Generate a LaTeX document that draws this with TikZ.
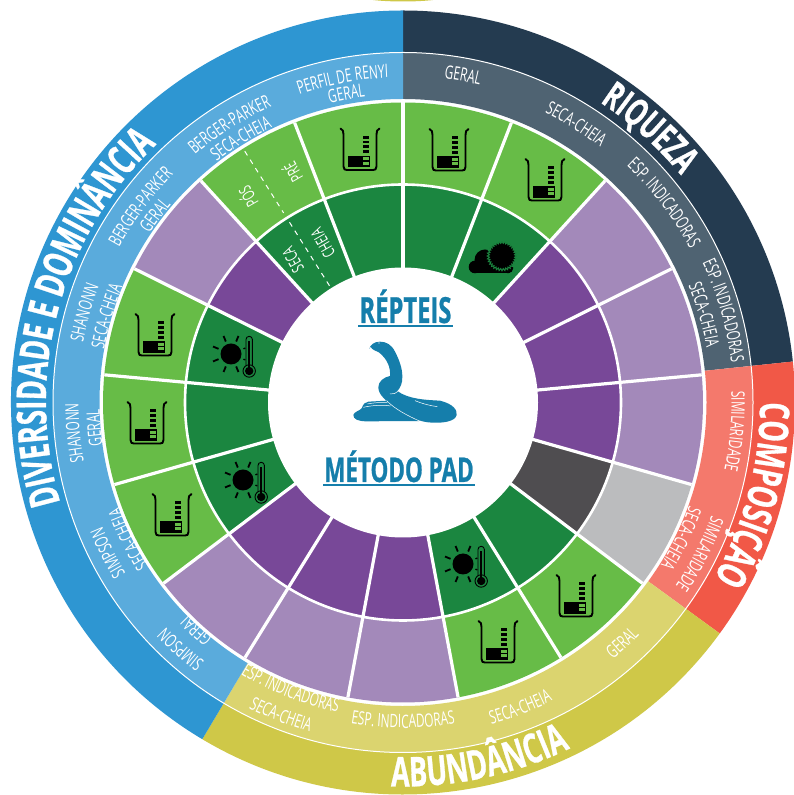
\documentclass[tikz,border=0pt]{standalone}
\usepackage{fontspec}
\usetikzlibrary{decorations.text}
\newfontfamily\cond[FakeStretch=0.64]{Open Sans}
\newfontfamily\heavy[FakeStretch=0.66,FakeBold=0.7]{Open Sans}
\definecolor{cblue}{HTML}{2E96D2}
\definecolor{cbluel}{HTML}{5AABDC}
\definecolor{cnavy}{HTML}{243B50}
\definecolor{cnavyl}{HTML}{4F6372}
\definecolor{cred}{HTML}{F15847}
\definecolor{credl}{HTML}{F4796C}
\definecolor{cyel}{HTML}{CFC848}
\definecolor{cyell}{HTML}{DBD46F}
\definecolor{cgreen}{HTML}{67BC47}
\definecolor{cdgreen}{HTML}{1B8640}
\definecolor{cpurple}{HTML}{784898}
\definecolor{cpurplel}{HTML}{A389BA}
\definecolor{cdgrey}{HTML}{4F4D50}
\definecolor{cgrey}{HTML}{BBBCBE}
\definecolor{csnake}{HTML}{157EAB}
\newcommand{\St}{21.17647}
\newcommand{\mywedge}[5]{% a1 a2 r1 r2 colour (clockwise from the top)
  \pgfmathsetmacro{\wa}{90-#1}\pgfmathsetmacro{\wb}{90-#2}
  \fill[#5] (\wa:#4) arc[start angle=\wa,end angle=\wb,radius=#4] -- (\wb:#3) arc[start angle=\wb,end angle=\wa,radius=#3] -- cycle;}
\newcommand{\mycell}[3]{% index, outer colour, inner colour
  \pgfmathsetmacro{\ca}{#1*\St}\pgfmathsetmacro{\cb}{(#1+1)*\St}
  \mywedge{\ca}{\cb}{218}{300}{#2}
  \mywedge{\ca}{\cb}{134}{218}{#3}}
\newcommand{\cwtext}[4]{% angle, baseline radius, font, text : clockwise
  \pgfmathsetmacro{\ts}{90-#1+38}
  \path[decorate,decoration={text along path,text align=center,text={|#3|#4}}]
    (\ts:#2) arc[start angle=\ts,delta angle=-76,radius=#2];}
\newcommand{\ccwtext}[4]{% angle, baseline radius, font, text : counter-clockwise
  \pgfmathsetmacro{\ts}{90-#1-38}
  \path[decorate,decoration={text along path,text align=center,text={|#3|#4}}]
    (\ts:#2) arc[start angle=\ts,delta angle=76,radius=#2];}
\newcommand{\lab}{\cond\fontsize{18.5}{18.5}\selectfont\color{white}}
\newcommand{\labb}{\cond\fontsize{18.5}{18.5}\selectfont\color{white}}
\newcommand{\biglab}{\heavy\bfseries\fontsize{41}{41}\selectfont\color{white}}
\newcommand{\midlab}{\heavy\bfseries\fontsize{38}{38}\selectfont\color{white}}
\newcommand{\beaker}[2]{%
  \begin{scope}[shift={(#1,795-#2)}]
    \draw[black,line width=1.9pt,line cap=round,line join=round]
      (-19.5,21) .. controls (-17,20) and (-16.5,18) .. (-16.5,15) -- (-16.5,-17)
      .. controls (-16.5,-20) and (-15,-20.5) .. (-13,-20.5) -- (13,-20.5)
      .. controls (15,-20.5) and (16.5,-20) .. (16.5,-17) -- (16.5,15)
      .. controls (16.5,18) and (17,20) .. (19.5,21);
    \fill[black] (-12.5,-18) rectangle (10,-6.5);
    \foreach \yy in {13.5,8.8,4,-0.8}{\fill[black] (3.2,\yy) rectangle (8.8,\yy-2.8);}
    \foreach \yy in {-7.8,-12.5}{\fill[cgreen] (3.2,\yy) rectangle (8.8,\yy-2.8);}
  \end{scope}}
\newcommand{\sunthermo}[2]{%
  \begin{scope}[shift={(#1,795-#2)}]
    \fill[black] (0,0) circle (10.5);
    \foreach \ang in {67.5,112.5,157.5,202.5,247.5,292.5}{%
      \draw[black,line width=1.8pt] (\ang:13.5) -- (\ang:19.5);}
    \draw[black,line width=1.3pt] (-22.5:13.5) -- (-22.5:15.5);
    \draw[black,line width=1.3pt] (22.5:13.5) -- (22.5:15.5);
    \draw[black,line width=0.9pt] (15,-13) -- (15,14.5) arc[start angle=180,end angle=0,radius=3.2] -- (21.4,-13);
    \fill[cdgreen] (18.2,-17) circle (6.2);
    \draw[black,line width=0.9pt] (18.2,-17) circle (6.2);
    \fill[black] (18.2,-17) circle (4.2);
    \fill[black] (17.2,-14) rectangle (19.2,13);
  \end{scope}}
\begin{document}
\begin{tikzpicture}[x=1pt,y=1pt]
\useasboundingbox (0,0) rectangle (794,795);
\fill[white] (0,0) rectangle (794,795);
\fill[cyel] (373,795) .. controls (390,793) and (416,793) .. (433,795) -- cycle;
\begin{scope}[shift={(403,392.5)}]
% outer bands
\mywedge{0}{84}{350}{392}{cnavy}
\mywedge{84}{126.1}{350}{392}{cred}
\mywedge{126.1}{210.8}{350}{392}{cyel}
\mywedge{210.8}{360}{350}{392}{cblue}
\mywedge{0}{84}{303.5}{350}{cnavyl}
\mywedge{84}{126.1}{303.5}{350}{credl}
\mywedge{126.1}{210.8}{303.5}{350}{cyell}
\mywedge{210.8}{360}{303.5}{350}{cbluel}
\draw[white,line width=1pt] (0,0) circle (350);
% cells
\mycell{0}{cgreen}{cdgreen}
\mycell{1}{cgreen}{cdgreen}
\mycell{2}{cpurplel}{cpurple}
\mycell{3}{cpurplel}{cpurple}
\mycell{4}{cpurplel}{cpurple}
\mycell{5}{cgrey}{cdgrey}
\mycell{6}{cgreen}{cdgreen}
\mycell{7}{cgreen}{cdgreen}
\mycell{8}{cpurplel}{cpurple}
\mycell{9}{cpurplel}{cpurple}
\mycell{10}{cpurplel}{cpurple}
\mycell{11}{cgreen}{cdgreen}
\mycell{12}{cgreen}{cdgreen}
\mycell{13}{cgreen}{cdgreen}
\mycell{14}{cpurplel}{cpurple}
\mycell{15}{cgreen}{cdgreen}
\mycell{16}{cgreen}{cdgreen}
\foreach \i in {0,...,16}{%
  \pgfmathsetmacro{\ang}{90-\i*\St}
  \draw[white,line width=3.2pt] (\ang:134) -- (\ang:300);}
\draw[white,line width=2.6pt] (0,0) circle (218);
\fill[white] (0,0) circle (135);
% split cell
\draw[white,line width=1pt,dash pattern=on 5pt off 5pt] (122.2:297) -- (122.2:224);
\draw[white,line width=1pt,dash pattern=on 5pt off 5pt] (122.2:213) -- (122.2:136);
% band labels
\cwtext{285}{357}{\biglab}{DIVERSIDADE E DOMINÂNCIA}
\cwtext{42}{359}{\midlab}{RIQUEZA}
\cwtext{104.7}{357}{\biglab}{COMPOSIÇÃO}
\ccwtext{168}{384}{\biglab}{ABUNDÂNCIA}
\cwtext{10.4}{326.5}{\lab}{GERAL}
\cwtext{31.9}{322.5}{\lab}{SECA-CHEIA}
\cwtext{52.6}{325.5}{\lab}{ESP. INDICADORAS}
\cwtext{74}{330.5}{\labb}{ESP. INDICADORAS}
\cwtext{73.7}{308.5}{\labb}{SECA-CHEIA}
\cwtext{95}{328.5}{\lab}{SIMILARIDADE}
\cwtext{117}{328.5}{\labb}{SIMILARIDADE}
\cwtext{116}{304.5}{\labb}{SECA-CHEIA}
\ccwtext{137.6}{331.5}{\lab}{GERAL}
\ccwtext{159}{333.5}{\lab}{SECA-CHEIA}
\ccwtext{180}{325.5}{\lab}{ESP. INDICADORAS}
\ccwtext{201.4}{316.5}{\labb}{ESP. INDICADORAS}
\ccwtext{201.3}{342.5}{\labb}{SECA-CHEIA}
\cwtext{222}{326.5}{\labb}{SIMPSON}
\cwtext{222.4}{301.5}{\labb}{GERAL}
\cwtext{243}{325.5}{\labb}{SIMPSON}
\cwtext{243.5}{301.5}{\labb}{SECA-CHEIA}
\cwtext{264.7}{324.5}{\labb}{SHANONN}
\cwtext{265.3}{303.5}{\labb}{GERAL}
\cwtext{285.8}{325.5}{\labb}{SHANONN}
\cwtext{286.2}{303.5}{\labb}{SECA-CHEIA}
\cwtext{306.7}{323.5}{\labb}{BERGER-PARKER}
\cwtext{307}{304.5}{\labb}{GERAL}
\cwtext{328}{323.5}{\labb}{BERGER-PARKER}
\cwtext{328.4}{304.5}{\labb}{SECA-CHEIA}
\cwtext{349.4}{325}{\labb}{PERFIL DE RENYI}
\cwtext{349.6}{308}{\labb}{GERAL}
\end{scope}
% split cell labels
\node[rotate=120,text=white,font=\cond\fontsize{17}{17}\selectfont,inner sep=0] (pre) at (292,795-173) {PRÉ};
\node[rotate=120,text=white,font=\cond\fontsize{17}{17}\selectfont,inner sep=0] (pos) at (247,795-197) {PÓS};
\node[rotate=120,text=white,font=\cond\fontsize{17}{17}\selectfont,inner sep=0] (seca) at (293,795-260) {SECA};
\node[rotate=120,text=white,font=\cond\fontsize{17}{17}\selectfont,inner sep=0] (cheia) at (323,795-243) {CHEIA};
% beakers
\beaker{360}{149.5}
\beaker{449}{150}
\beaker{545}{180}
\beaker{576}{596}
\beaker{498}{642}
\beaker{172}{515}
\beaker{147}{423}
\beaker{155}{335}
% suns
\sunthermo{231}{354}
\sunthermo{243}{480}
\sunthermo{463}{564}
% cloud and sun
\begin{scope}[shift={(0,795)},x=1pt,y=-1pt]
  \fill[black] (475,267) circle (6.3);
  \fill[black] (485,260) circle (10.5);
  \fill[black] (475,263) rectangle (510,273.3);
  \fill[black] (508,268) circle (5.3);
  \draw[cdgreen,line width=1pt,fill=black,line join=miter]
    (516.8,256)
    \foreach \kk in {1,...,63}{
      -- ({502+(mod(\kk,2)==1?12.6:14.8)*cos(\kk*5.625)},{256+(mod(\kk,2)==1?12.6:14.8)*sin(\kk*5.625)})
    } -- cycle;
\end{scope}
% centre
\node[text=csnake,font=\heavy\bfseries\fontsize{36}{36}\selectfont,inner sep=0,anchor=base] (rep) at (405.5,795-323) {RÉPTEIS};
\node[text=csnake,font=\heavy\bfseries\fontsize{34}{34}\selectfont,inner sep=0,anchor=base] (pad) at (399,795-482) {MÉTODO PAD};
\fill[csnake] (358,795-327) rectangle (453,795-325);
\fill[csnake] (323,795-486) rectangle (475,795-484);
% snake, in coordinates of a 3x crop at (280,280)
\begin{scope}[shift={(280,795-280)},x=0.33333pt,y=-0.33333pt]
  \fill[csnake] (220,405) .. controls (222,395) and (240,392) .. (245,385)
    .. controls (250,372) and (255,366) .. (265,365) -- (320,362) -- (420,423)
    -- (260,424) .. controls (235,424) and (220,418) .. (220,405) -- cycle;
  \fill[csnake] (268,207) .. controls (270,195) and (282,185) .. (300,185)
    .. controls (320,185) and (335,195) .. (345,215)
    .. controls (358,240) and (367,265) .. (367,290)
    .. controls (368,310) and (360,325) .. (352,333)
    .. controls (385,358) and (440,360) .. (480,362)
    .. controls (520,372) and (532,390) .. (530,405)
    .. controls (525,425) and (490,429) .. (460,428)
    .. controls (420,428) and (385,410) .. (350,385)
    .. controls (320,365) and (295,345) .. (295,322)
    .. controls (295,305) and (310,292) .. (330,288)
    .. controls (332,262) and (322,238) .. (298,218)
    .. controls (288,212) and (275,210) .. (272,200) -- cycle;
  \draw[white,line width=0.5pt] (250,382) .. controls (275,376) and (310,374) .. (332,378);
  \draw[white,line width=0.5pt] (262,372) .. controls (280,368) and (300,367) .. (322,368);
  \draw[white,line width=0.5pt] (320,362) .. controls (345,388) and (385,408) .. (418,423);
  \draw[white,line width=0.5pt] (405,362) .. controls (430,372) and (450,377) .. (472,380);
  \draw[white,line width=0.5pt] (330,342) .. controls (340,343) and (348,340) .. (354,334);
  \fill[white] (297,189) circle (1.8);
\end{scope}
\end{tikzpicture}
\end{document}
